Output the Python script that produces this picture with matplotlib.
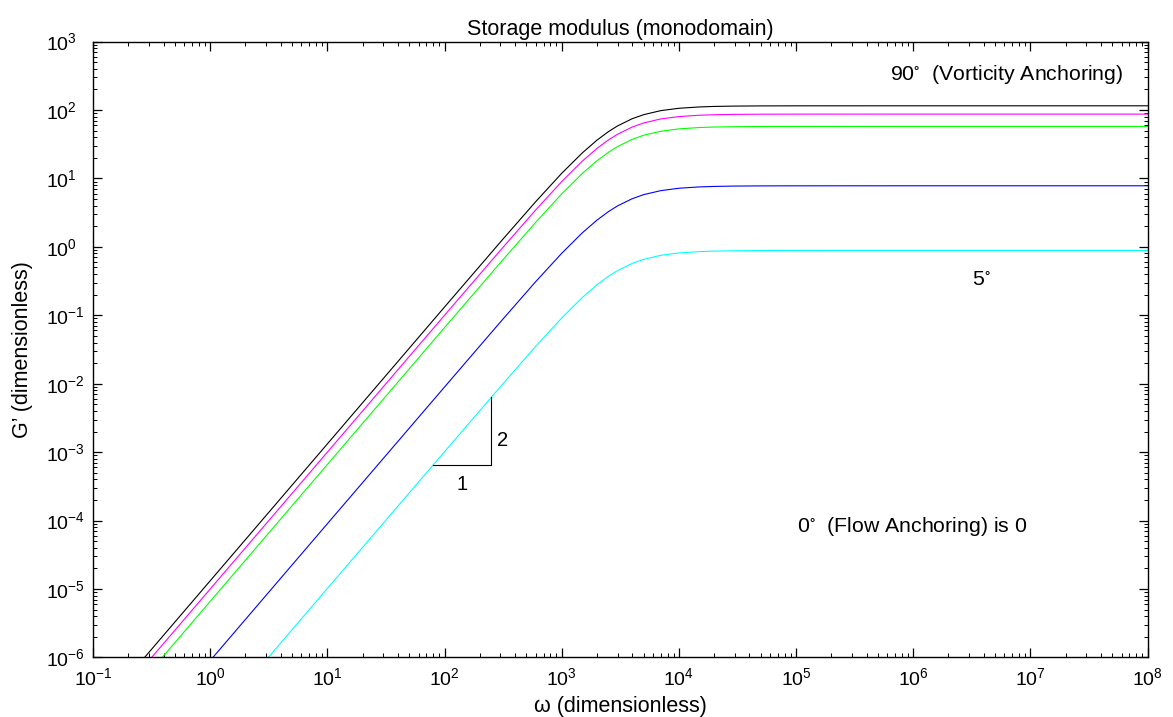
import numpy as np
import matplotlib
matplotlib.use("Agg")
import matplotlib.pyplot as plt
from matplotlib.ticker import LogLocator, NullFormatter, FixedLocator

plt.rcParams['font.family'] = ['Liberation Sans', 'DejaVu Sans']
plt.rcParams['mathtext.fontset'] = 'custom'
plt.rcParams['mathtext.rm'] = 'Liberation Sans'
plt.rcParams['mathtext.it'] = 'Liberation Sans:italic'
plt.rcParams['mathtext.default'] = 'regular'

# frequencies (dimensionless)
omega = [0.1, 1, 10, 100, 300, 600, 1000, 1500, 2000, 2500, 3000, 4000,
         5000, 7000, 1e4, 1.5e4, 2e4, 3e4, 5e4, 1e5, 1e6, 1e8]

# storage modulus G' for each anchoring angle
g_black = [1.32e-7, 1.32e-5, 1.32e-3, 0.132, 1.176, 4.57, 11.86, 23.6, 36.2, 48.1,
           58.5, 74.5, 85.3, 97.7, 105.8, 110.7, 112.6, 113.9, 114.6, 114.9, 115, 115]
g_magenta = [1.0e-7, 1.0e-5, 1.0e-3, 0.0999, 0.890, 3.46, 8.97, 17.88, 27.4, 36.4,
             44.2, 56.3, 64.5, 73.9, 80.0, 83.8, 85.1, 86.2, 86.7, 86.9, 87, 87]
g_green = [6.6e-8, 6.6e-6, 6.6e-4, 0.0660, 0.588, 2.28, 5.93, 11.82, 18.1, 24.0,
           29.2, 37.2, 42.7, 48.8, 52.9, 55.4, 56.3, 56.9, 57.3, 57.45, 57.5, 57.5]
g_blue = [9.0e-9, 9.0e-7, 9.0e-5, 8.95e-3, 0.0798, 0.310, 0.804, 1.603, 2.456, 3.26,
          3.97, 5.05, 5.79, 6.62, 7.18, 7.51, 7.63, 7.73, 7.77, 7.79, 7.8, 7.8]
g_cyan = [1.02e-9, 1.02e-7, 1.02e-5, 1.016e-3, 9.05e-3, 0.0352, 0.0912, 0.182, 0.279, 0.370,
          0.450, 0.573, 0.656, 0.752, 0.814, 0.852, 0.866, 0.876, 0.882, 0.884, 0.885, 0.885]

series = [g_black, g_magenta, g_green, g_blue, g_cyan]
colors = ['#000000', '#ff00ff', '#00ff00', '#0000ff', '#00ffff']

# slope triangle corners
tri_x = [79.1, 249, 249]
tri_y = [6.59e-4, 6.59e-4, 6.41e-3]

# decade ticks
x_ticks = [1e-1, 1e0, 1e1, 1e2, 1e3, 1e4, 1e5, 1e6, 1e7, 1e8]
y_ticks = [1e-6, 1e-5, 1e-4, 1e-3, 1e-2, 1e-1, 1e0, 1e1, 1e2, 1e3]

fig = plt.figure(figsize=(11.73, 7.17), dpi=100)
ax = fig.add_axes([0.0793, 0.0830, 0.899, 0.8591])

for g, c in zip(series, colors):
    ax.plot(omega, g, color=c, linewidth=0.8)

ax.plot(tri_x, tri_y, color='k', linewidth=0.8)
ax.text(140, 2.77e-4, '1', fontsize=14.5, ha='center', va='baseline')
ax.text(312, 1.23e-3, '2', fontsize=14.5, ha='center', va='baseline')

ax.text(6.31e5, 273, r'90$^{\circ}$  (Vorticity Anchoring)', fontsize=15.3, ha='left', va='baseline')
ax.text(3.16e6, 0.275, r'5$^{\circ}$', fontsize=15.3, ha='left', va='baseline')
ax.text(1.017e5, 6.8e-5, r'0$^{\circ}$  (Flow Anchoring) is 0', fontsize=15.3, ha='left', va='baseline')

ax.set_xscale('log')
ax.set_yscale('log')
ax.set_xlim(1e-1, 1e8)
ax.set_ylim(1e-6, 1e3)

ax.xaxis.set_major_locator(FixedLocator(x_ticks))
ax.yaxis.set_major_locator(FixedLocator(y_ticks))
for axis in (ax.xaxis, ax.yaxis):
    axis.set_minor_locator(LogLocator(base=10, subs=np.arange(2, 10), numticks=200))
    axis.set_minor_formatter(NullFormatter())

ax.tick_params(which='both', direction='in', top=True, right=True, labelsize=14)
ax.tick_params(which='major', length=6.2, width=0.9)
ax.tick_params(which='minor', length=2.8, width=0.7)
ax.tick_params(axis='x', pad=7)
ax.tick_params(axis='y', pad=34)
for s in ax.spines.values():
    s.set_linewidth(1.0)

ax.set_title('Storage modulus (monodomain)', fontsize=15.5, pad=5)
ax.set_xlabel('ω (dimensionless)', fontsize=15.5, labelpad=5)
ax.set_ylabel("G’ (dimensionless)", fontsize=15.5, labelpad=9)

fig.canvas.draw()
for lbl in ax.get_yticklabels():
    lbl.set_horizontalalignment('left')

fig.savefig('out.png', dpi=100)
